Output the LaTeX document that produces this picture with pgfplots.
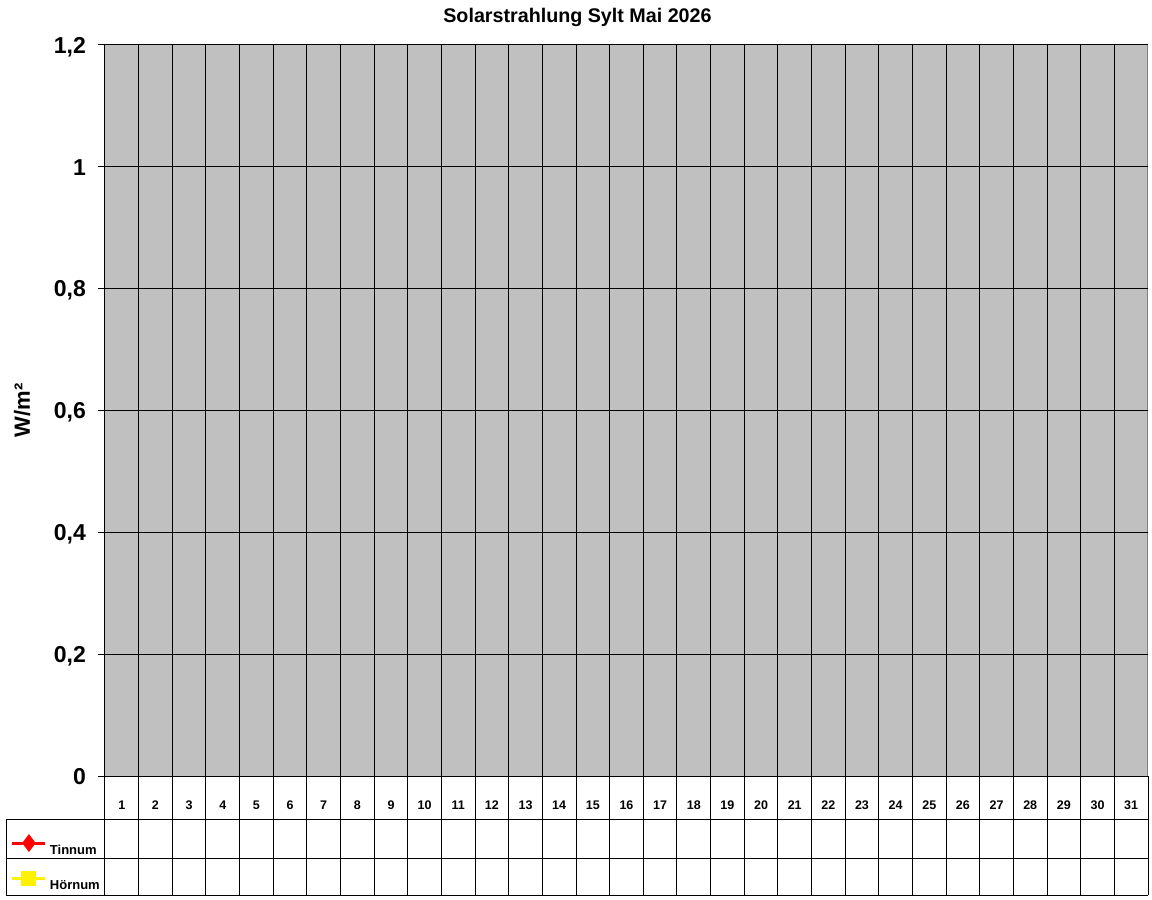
\documentclass[border=0pt]{standalone}
\usepackage{fontspec}
\setmainfont{Liberation Sans}
\usepackage{pgfplots}
\pgfplotsset{compat=1.18}

\definecolor{plotgray}{HTML}{C0C0C0}
\definecolor{framegray}{HTML}{808080}

\begin{document}
\begin{tikzpicture}
% page = 1152 x 900 pt, axis lower left at (0,0)
\fill[white] (-105pt,-124pt) rectangle (1047pt,776pt);
\path[use as bounding box] (-105pt,-124pt) rectangle (1047pt,776pt);

\begin{axis}[
  scale only axis, width=1043pt, height=731pt,
  xmin=0.5, xmax=31.5, ymin=0, ymax=1.2,
  axis x line*=bottom, axis y line*=left,
  axis line style={black, line width=1pt},
  axis background/.style={fill=plotgray, draw=framegray, line width=1pt},
  xtick={1,...,31},
  minor xtick={1.5,2.5,...,30.5},
  ytick={0,0.2,0.4,0.6,0.8,1,1.2},
  ymajorgrids, xminorgrids,
  major grid style={black, line width=1pt},
  minor grid style={black, line width=1pt},
  tick align=outside,
  major tick length=7pt, minor tick length=0pt,
  xtick style={draw=none},
  ytick style={black, line width=1pt},
  /pgf/number format/.cd, use comma, fixed, precision=1, assume math mode=true,
  /pgfplots/.cd,
  yticklabel style={font=\fontsize{23}{26}\selectfont\bfseries, anchor=east,
    inner sep=0pt, text height=16.5pt, text depth=0pt, xshift=-12pt},
  xticklabel style={font=\fontsize{12.5}{14}\selectfont\bfseries, anchor=center,
    inner sep=0pt, text height=9pt, text depth=0pt, yshift=-22pt},
  title={Solarstrahlung Sylt Mai 2026},
  title style={font=\fontsize{19.7}{23}\selectfont\bfseries,
    at={(axis description cs:0.453,1.0219)}, anchor=base},
  ylabel={W/m²},
  ylabel style={font=\fontsize{22}{26}\selectfont\bfseries,
    at={(axis description cs:-0.072,0.5)}, anchor=base, rotate=0},
  legend cell align=left,
  legend image code/.code={%
    \draw[mark repeat=2, mark phase=2, line width=3pt]
      plot coordinates {(0pt,6.25pt) (16.5pt,6.25pt) (33pt,6.25pt)};},
  legend style={at={(axis description cs:-0.0902,-0.0828)}, anchor=north west,
    draw=none, fill=none, inner sep=0pt, outer sep=0pt,
    row sep=18.5pt, column sep=3pt,
    font=\fontsize{13}{15}\selectfont\bfseries,
    nodes={inner sep=0pt, text height=9.5pt, text depth=0pt}},
]
\addlegendimage{red, mark=diamond*, mark size=6.5pt, mark options={solid, fill=red}}
\addlegendentry{Tinnum}
\addlegendimage{yellow, mark=square*, mark size=6pt, mark options={solid, fill=yellow}}
\addlegendentry{Hörnum}
\end{axis}

% data table grid below the plot area
\foreach \k in {0,...,31}
  \draw[line width=1pt] ({\k*33.6452pt},0pt) -- ({\k*33.6452pt},-119pt);
\draw[line width=1pt] (-98.5pt,-44pt) -- (1043pt,-44pt);
\draw[line width=1pt] (-98.5pt,-82pt) -- (1043pt,-82pt);
\draw[line width=1pt] (-98.5pt,-119pt) -- (1043pt,-119pt);
\draw[line width=1pt] (-98.5pt,-44pt) -- (-98.5pt,-119pt);
\end{tikzpicture}
\end{document}
